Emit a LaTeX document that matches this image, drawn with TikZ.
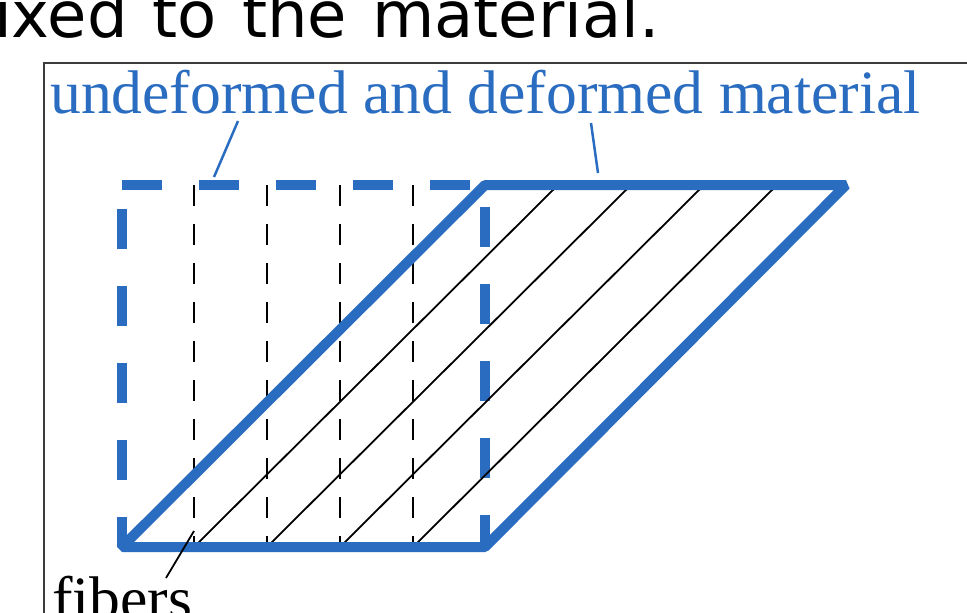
\documentclass[tikz,border=0pt]{standalone}
\usepackage{fontspec}
\setmainfont{Liberation Serif}
\newfontfamily\topfont{DejaVu Sans}
\definecolor{matblue}{RGB}{42,108,192}
\definecolor{framegray}{RGB}{60,60,60}
\begin{document}
\begin{tikzpicture}[x=1pt,y=-1pt,
  bluethick/.style={draw=matblue,line width=10pt,line join=bevel},
  bluedash/.style={bluethick,dash pattern=on 40pt off 37pt},
  fiberline/.style={draw=black,line width=1.8pt},
  fiberdash/.style={fiberline,dash pattern=on 21pt off 18pt},
  pointer/.style={draw=matblue,line width=2.5pt},
  fpointer/.style={draw=black,line width=1.8pt},
  framebox/.style={draw=framegray,line width=1.5pt},
  serlabel/.style={inner sep=0pt,anchor=base west,font=\fontsize{61.6}{62}\selectfont},
  toplabel/.style={inner sep=0pt,anchor=base west,font=\topfont\fontsize{64}{64}\selectfont}]
\useasboundingbox (0,0) rectangle (967,613);
\clip (0,0) rectangle (967,613);
% caption fragment
\node[toplabel] (cap) at (-6,37) {\spaceskip=25pt ixed to the material.};
% frame
\draw[framebox] (44,700) -- (44,63) -- (1000,63);
% undeformed (dashed) square
\draw[bluedash] (122,185) -- (485,185) -- (485,547) -- (122,547) -- cycle;
% fibers undeformed
\foreach \x in {194,267,340,413}{
  \draw[fiberdash] (\x,185) -- (\x,547);
}
% fibers deformed
\foreach \x in {194,267,340,413}{
  \draw[fiberline] (\x,547) -- ({\x+364},185);
}
% deformed parallelogram
\draw[bluethick] (122,547) -- (485,547) -- (846,185) -- (485,185) -- cycle;
% labels
\node[serlabel,text=matblue] (mat) at (50,113) {undeformed and deformed material};
\node[serlabel,text=black] (fib) at (52,619) {fibers};
\coordinate (m1) at (238,121);
\coordinate (m1e) at (214,177);
\coordinate (m2) at (591,123);
\coordinate (m2e) at (598,173);
\coordinate (f1) at (166,578);
\coordinate (f1e) at (194,531);
\draw[pointer] (m1) -- (m1e);
\draw[pointer] (m2) -- (m2e);
\draw[fpointer] (f1) -- (f1e);
\end{tikzpicture}
\end{document}
